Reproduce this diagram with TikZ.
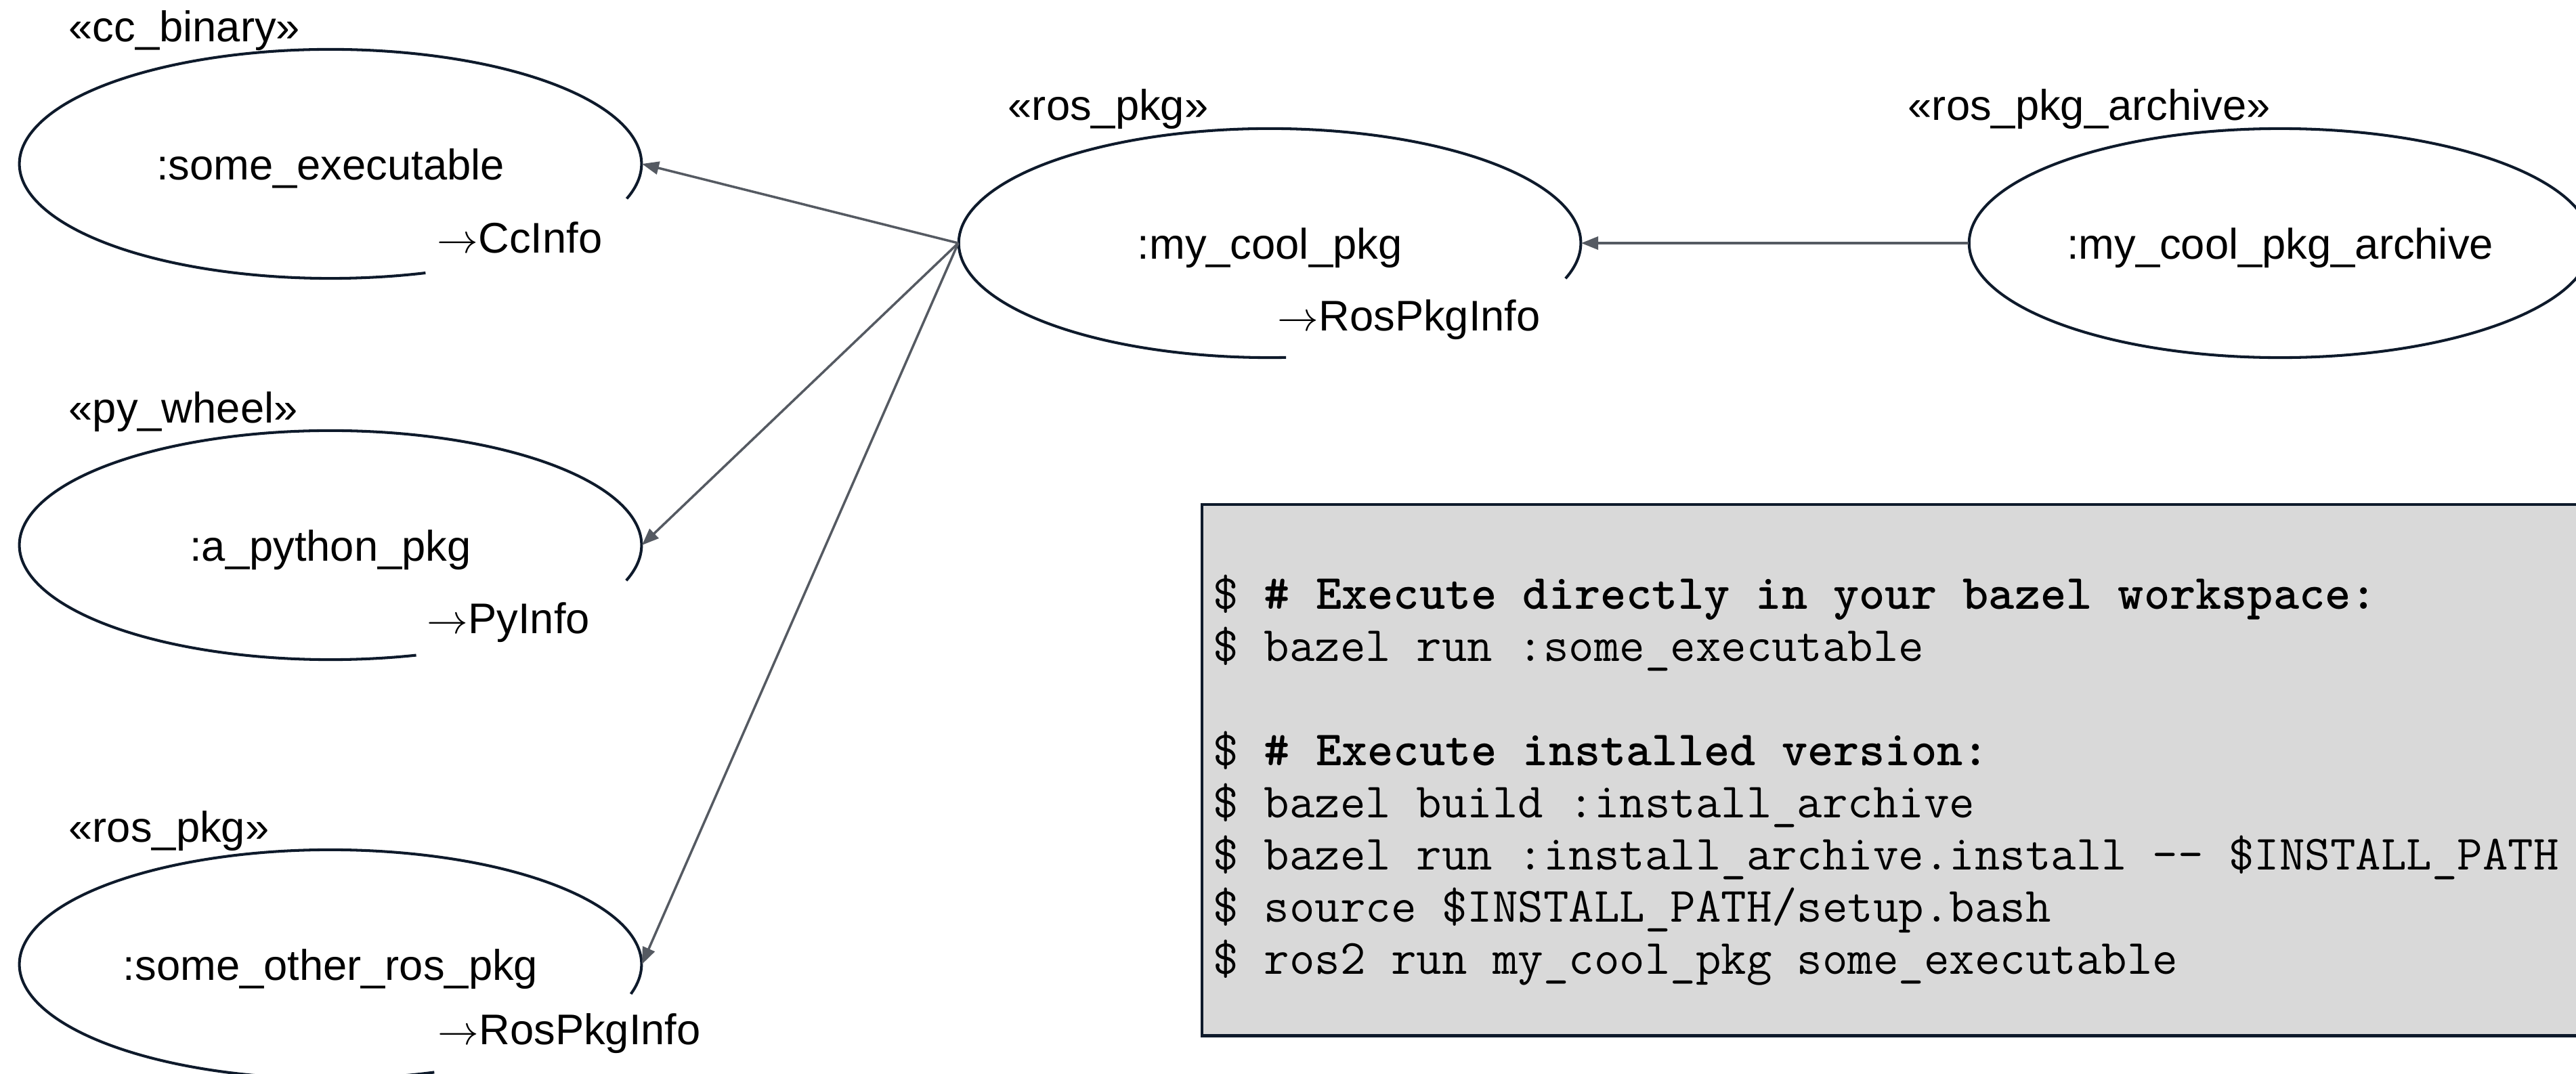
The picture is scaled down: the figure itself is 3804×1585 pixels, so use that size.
\documentclass[tikz,border=0pt]{standalone}
\usepackage{fontspec}
\setmainfont{Liberation Sans}
\usetikzlibrary{shapes.geometric,arrows.meta}
\definecolor{edgecol}{RGB}{14,26,43}
\definecolor{conncol}{RGB}{85,90,98}
\definecolor{codebg}{RGB}{217,217,217}
\begin{document}
\begin{tikzpicture}[x=0.01cm,y=-0.01cm,
  obj/.style={ellipse,minimum width=9.18cm,minimum height=3.38cm,inner sep=0pt,
    text height=0.46cm,text depth=0pt,font=\fontsize{18}{22}\selectfont},
  outline/.style={draw=edgecol,line width=1.15pt},
  conn/.style={draw=conncol,line width=1pt,-{Triangle[length=0.25cm,width=0.19cm]}},
  stereo/.style={anchor=base west,inner sep=0pt,font=\fontsize{18}{22}\selectfont},
  prov/.style={anchor=base west,inner sep=0pt,font=\fontsize{18}{22}\selectfont},
  codeline/.style={anchor=base west,inner sep=0pt,font=\ttfamily\fontsize{20.7}{24}\selectfont}]
\useasboundingbox (0,0) rectangle (3804,1585);
\clip (0,0) rectangle (3804,1585);

% object nodes
\node[obj] (e1) at (488,242) {:some\_executable};
\node[obj] (e2) at (488,805) {:a\_python\_pkg};
\node[obj] (e3) at (488,1424) {:some\_other\_ros\_pkg};
\node[obj] (e4) at (1875,359) {:my\_cool\_pkg};
\node[obj] (e5) at (3367,359) {:my\_cool\_pkg\_archive};

% outlines (with gaps where provider labels sit)
\draw[outline] (e1.center) ++(-17.7:4.59cm and 1.69cm)
  arc[start angle=-17.7,end angle=287.8,x radius=4.59cm,y radius=1.69cm];
\draw[outline] (e2.center) ++(-18:4.59cm and 1.69cm)
  arc[start angle=-18,end angle=286,x radius=4.59cm,y radius=1.69cm];
\draw[outline] (e3.center) ++(-15:4.59cm and 1.69cm)
  arc[start angle=-15,end angle=289.5,x radius=4.59cm,y radius=1.69cm];
\draw[outline] (e4.center) ++(-18:4.59cm and 1.69cm)
  arc[start angle=-18,end angle=273,x radius=4.59cm,y radius=1.69cm];
\draw[outline] (e5.center) ellipse[x radius=4.59cm,y radius=1.69cm];

% stereotypes
\node[stereo] (s1) at (101,62) {«cc\_binary»};
\node[stereo] (s2) at (101,624) {«py\_wheel»};
\node[stereo] (s3) at (101,1243) {«ros\_pkg»};
\node[stereo] (s4) at (1488,178) {«ros\_pkg»};
\node[stereo] (s5) at (2817,178) {«ros\_pkg\_archive»};

% provider labels
\node[prov] (p1) at (645,373) {$\rightarrow$CcInfo};
\node[prov] (p2) at (630,935) {$\rightarrow$PyInfo};
\node[prov] (p3) at (646,1542) {$\rightarrow$RosPkgInfo};
\node[prov] (p4) at (1886,488) {$\rightarrow$RosPkgInfo};

% connectors
\draw[conn] (e4.west) -- (e1.east);
\draw[conn] (e4.west) -- (e2.east);
\draw[conn] (e4.west) -- (e3.east);
\draw[conn] (e5.west) -- (e4.east);

% code box
\node[draw=edgecol,fill=codebg,line width=1.15pt,anchor=north west,
  minimum width=21.5cm,minimum height=7.84cm,inner sep=0pt] (code) at (1773,743) {};
\node[codeline] (c1) at (1791,899) {\$ \textbf{\# Execute directly in your bazel workspace:}};
\node[codeline] (c2) at (1791,976) {\$ bazel run :some\_executable};
\node[codeline] (c3) at (1791,1130) {\$ \textbf{\# Execute installed version:}};
\node[codeline] (c4) at (1791,1207) {\$ bazel build :install\_archive};
\node[codeline] (c5) at (1791,1284) {\$ bazel run :install\_archive.install -{}- \$INSTALL\_PATH};
\node[codeline] (c6) at (1791,1361) {\$ source \$INSTALL\_PATH/setup.bash};
\node[codeline] (c7) at (1791,1438) {\$ ros2 run my\_cool\_pkg some\_executable};
\end{tikzpicture}
\end{document}
